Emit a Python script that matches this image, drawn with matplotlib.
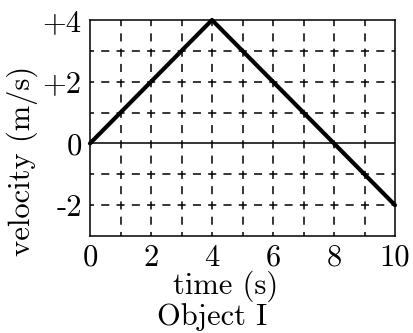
import matplotlib
matplotlib.use("Agg")
import matplotlib.pyplot as plt

# data
time = [0, 4, 10]
velocity = [0, 4, -2]
xticks = [0, 2, 4, 6, 8, 10]
yticks = [4, 2, 0, -2]
yticklabels = ["+4", "+2", "0", "-2"]

plt.rcParams['font.family'] = ['cmr10', 'DejaVu Serif']
plt.rcParams['lines.scale_dashes'] = False

fig = plt.figure(figsize=(4.13, 3.33), dpi=100)
ax = fig.add_axes([90 / 413, 1 - 236 / 333, 305 / 413, 216 / 333])

ax.set_xlim(0, 10)
ax.set_ylim(-3, 4)

# dashed grid every unit
dash = (2.9, (5.8, 5.2))
for gx in range(1, 10):
    ax.axvline(gx, color='black', lw=1.1, linestyle=dash, zorder=1)
for gy in range(-2, 4):
    if gy == 0:
        continue
    ax.axhline(gy, color='black', lw=1.1, linestyle=dash, zorder=1)
ax.axhline(0, color='black', lw=1.1, zorder=1)

ax.plot(time, velocity, color='black', lw=3.0, solid_capstyle='round', zorder=3, clip_on=False)

ax.set_xticks(xticks)
ax.set_yticks(yticks)
ax.set_yticklabels(yticklabels)
ax.tick_params(length=0, labelsize=22, pad=6)
for s in ax.spines.values():
    s.set_linewidth(1.1)

fig.text(226 / 413, 1 - 286 / 333, "time (s)", fontsize=22, ha='center', va='center')
fig.text(212 / 413, 1 - 317 / 333, "Object I", fontsize=22, ha='center', va='center')
fig.text(22 / 413, 1 - 161 / 333, "velocity (m/s)", fontsize=22, ha='center', va='center',
         rotation=90)

fig.savefig("out.png", dpi=100)
